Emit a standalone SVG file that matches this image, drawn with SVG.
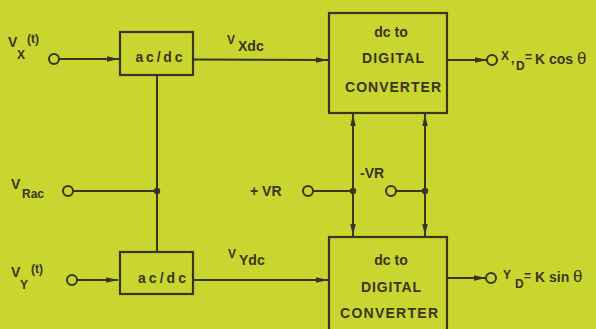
<svg xmlns="http://www.w3.org/2000/svg" width="596" height="329" viewBox="0 0 596 329">
<style>
.ln{stroke:#3a3420;stroke-width:2;fill:none}
.bx{stroke:#3a3420;stroke-width:2.2;fill:none}
.term{stroke:#3a3420;stroke-width:2;fill:#c9d630}
.dot{fill:#3a3420}
text{font-family:"Liberation Sans",Arial,sans-serif;fill:#3a3420;font-weight:bold}
.bt{font-size:14px;text-anchor:middle}
.lb{font-size:14px}
.sb{font-size:12px}
</style>
<defs>
<marker id="ar" viewBox="0 0 12 7" refX="12" refY="3.5" markerWidth="12" markerHeight="7" markerUnits="userSpaceOnUse" orient="auto">
<path d="M0,0.8 L12,3.5 L0,6.2 Z" fill="#3a3420"/>
</marker>
</defs>
<rect width="596" height="329" fill="#c9d630"/>

<g id="connectors">
<line class="ln" x1="59" y1="59" x2="119" y2="59" marker-end="url(#ar)"/>
<line class="ln" x1="77" y1="280" x2="118" y2="280" marker-end="url(#ar)"/>
<line class="ln" x1="193" y1="59.5" x2="328" y2="60" marker-end="url(#ar)"/>
<line class="ln" x1="193" y1="280" x2="328" y2="280" marker-end="url(#ar)"/>
<line class="ln" x1="157" y1="75" x2="157" y2="252"/>
<line class="ln" x1="73" y1="191" x2="157" y2="191"/>
<line class="ln" x1="447" y1="60" x2="487" y2="60" marker-end="url(#ar)"/>
<line class="ln" x1="447" y1="278" x2="486" y2="278" marker-end="url(#ar)"/>
<line class="ln" x1="353" y1="191" x2="353" y2="114" marker-end="url(#ar)"/>
<line class="ln" x1="353" y1="191" x2="353" y2="236" marker-end="url(#ar)"/>
<line class="ln" x1="425" y1="191" x2="425" y2="114" marker-end="url(#ar)"/>
<line class="ln" x1="425" y1="191" x2="425" y2="236" marker-end="url(#ar)"/>
<line class="ln" x1="313" y1="191" x2="353" y2="191"/>
<line class="ln" x1="396" y1="191" x2="425" y2="191"/>
<circle class="dot" cx="157" cy="191" r="3.2"/>
<circle class="dot" cx="353" cy="191" r="3.2"/>
<circle class="dot" cx="425" cy="191" r="3.2"/>
</g>

<g id="in-vx">
<circle class="term" cx="54" cy="59" r="5"/>
<text class="lb" x="8" y="47">V</text>
<text class="sb" x="17" y="59">X</text>
<text class="sb" x="27" y="43">(t)</text>
</g>
<g id="in-vrac">
<circle class="term" cx="68" cy="191" r="5"/>
<text class="lb" x="11" y="189">V</text>
<text class="sb" x="22" y="198">Rac</text>
</g>
<g id="in-vy">
<circle class="term" cx="72" cy="280" r="5"/>
<text class="lb" x="11" y="277">V</text>
<text class="sb" x="20" y="289">Y</text>
<text class="sb" x="31" y="273">(t)</text>
</g>
<g id="in-pvr">
<circle class="term" cx="308" cy="191" r="5"/>
<text class="lb" x="250" y="196">+ VR</text>
</g>
<g id="in-nvr">
<circle class="term" cx="391" cy="191" r="5"/>
<text class="lb" x="360" y="178">-VR</text>
</g>

<g id="acdc-top">
<rect class="bx" x="120" y="32" width="73" height="43"/>
<text class="bt" x="159" y="62" textLength="47" lengthAdjust="spacing">ac/dc</text>
</g>
<g id="acdc-bot">
<rect class="bx" x="120" y="252" width="73" height="42"/>
<text class="bt" x="162" y="283" textLength="48" lengthAdjust="spacing">ac/dc</text>
</g>

<g id="lbl-vxdc">
<text class="sb" x="227" y="44">V</text>
<text class="lb" x="238" y="51">Xdc</text>
</g>
<g id="lbl-vydc">
<text class="sb" x="228" y="258">V</text>
<text class="lb" x="239" y="265">Ydc</text>
</g>

<g id="conv-top">
<rect class="bx" x="329" y="13" width="118" height="100"/>
<text class="bt" x="391" y="37">dc to</text>
<text class="bt" x="393" y="63" textLength="62" lengthAdjust="spacing">DIGITAL</text>
<text class="bt" x="393" y="92" textLength="96" lengthAdjust="spacing">CONVERTER</text>
</g>
<g id="conv-bot">
<rect class="bx" x="329" y="237" width="118" height="100"/>
<text class="bt" x="391" y="265">dc to</text>
<text class="bt" x="391" y="292" textLength="60" lengthAdjust="spacing">DIGITAL</text>
<text class="bt" x="389" y="318" textLength="98" lengthAdjust="spacing">CONVERTER</text>
</g>

<g id="out-x">
<circle class="term" cx="492" cy="60" r="5"/>
<text class="sb" x="501" y="60">X</text>
<text class="sb" x="511" y="63">,</text>
<text class="sb" x="516" y="70">D</text>
<text class="sb" x="525" y="61">=</text>
<text class="lb" x="535" y="64">K cos</text>
<text class="lb" x="577" y="64" style="font-size:17px;font-weight:normal">θ</text>
</g>
<g id="out-y">
<circle class="term" cx="491" cy="278" r="5"/>
<text class="sb" x="503" y="279">Y</text>
<text class="sb" x="515" y="288">D</text>
<text class="sb" x="524" y="280">=</text>
<text class="lb" x="535" y="282">K sin</text>
<text class="lb" x="573" y="282" style="font-size:17px;font-weight:normal">θ</text>
</g>
</svg>
